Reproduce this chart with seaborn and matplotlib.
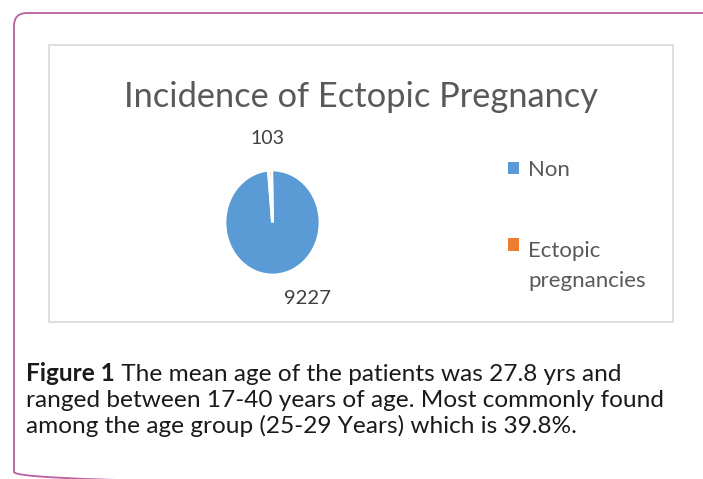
import matplotlib
matplotlib.use("Agg")
import matplotlib.pyplot as plt
from matplotlib.patches import FancyBboxPatch, Rectangle
from matplotlib.legend_handler import HandlerPatch
import seaborn as sns

# ---- data ----
categories = ["Non", "Ectopic\npregnancies"]
counts = [9227, 103]
count_labels = ["9227", "103"]
title = "Incidence of Ectopic Pregnancy"
caption_bold = "Figure 1"
caption_lines = [
    " The mean age of the patients was 27.8 yrs and",
    "ranged between 17-40 years of age. Most commonly found",
    "among the age group (25-29 Years) which is 39.8%.",
]

sns.set_theme(style="white")
plt.rcParams["font.family"] = ["Lato", "DejaVu Sans"]

colors = ["#5B9BD5", "#ED7D31"]
W, H = 703, 479
fig = plt.figure(figsize=(W / 100, H / 100), dpi=100)
fig.patch.set_facecolor("white")

bg = fig.add_axes([0, 0, 1, 1])
bg.set_xlim(0, W)
bg.set_ylim(H, 0)
bg.axis("off")

renderer = fig.canvas.get_renderer()


def fit(ax, x, y, s, target_w, **kw):
    t = ax.text(x, y, s, fontsize=10, **kw)
    w = t.get_window_extent(renderer).width
    t.set_fontsize(10 * target_w / w)
    return t


# outer rounded frame
frame = FancyBboxPatch((14, 13), 704, 472,
                       boxstyle="round,pad=0,rounding_size=13",
                       fc="none", ec="#bb5f9d", lw=1.3, clip_on=False)
bg.add_patch(frame)

# inner chart box
bg.add_patch(Rectangle((49, 45), 624, 277, fc="white", ec="#d9d9d9", lw=1.2))

# title
fit(bg, 361, 107, title, 473, ha="center", va="baseline", color="#595959")

# pie
cx, cy, rx, ry = 272.5, 222.5, 47.5, 52.5
pax = fig.add_axes([(cx - rx) / W, 1 - (cy + ry) / H, 2 * rx / W, 2 * ry / H])
wedges, _ = pax.pie(counts, colors=colors, startangle=91, counterclock=False,
                    wedgeprops=dict(edgecolor="white", linewidth=2.0))
pax.set_aspect("auto")
pax.set_xlim(-1, 1)
pax.set_ylim(-1, 1)

# data labels
fit(bg, 267, 138, count_labels[1], 34, ha="center", va="center", color="#404040")
fit(bg, 307, 299, count_labels[0], 47, ha="center", va="center", color="#404040")

# legend
tmp = bg.text(0, 0, "Non", fontsize=10)
lw_ = tmp.get_window_extent(renderer).width
tmp.remove()
lfs = 10 * 42 / lw_
LINESP = 1.6


def top_square(legend, orig_handle, xdescent, ydescent, width, height, fontsize):
    # align the square with the first line of a two-line label
    shift = 0.5 * fontsize * 1.2 * LINESP if "\n" in orig_handle.get_label() else 0
    return Rectangle((-xdescent, -ydescent + shift), width, height)


for w_, lab in zip(wedges, categories):
    w_.set_label(lab)

leg = fig.legend(wedges, categories, loc="upper left",
                 bbox_to_anchor=(508 / W, 1 - 160 / H), frameon=False,
                 fontsize=lfs, labelcolor="#595959", handlelength=0.5,
                 handleheight=0.5, handletextpad=0.4, labelspacing=2.75,
                 borderpad=0, borderaxespad=0,
                 handler_map={w: HandlerPatch(patch_func=top_square) for w in wedges})
for t in leg.get_texts():
    t.set_linespacing(LINESP)
for h in leg.legend_handles:
    h.set_edgecolor("none")

# caption
t2 = fit(bg, 26, 407, caption_lines[1], 636, ha="left", va="baseline", color="#1a1a1a")
cfs = t2.get_fontsize()
tb = bg.text(26, 381, caption_bold, fontsize=cfs, fontweight="bold",
             ha="left", va="baseline", color="#1a1a1a")
bw = tb.get_window_extent(renderer).width
bg.text(26 + bw, 381, caption_lines[0], fontsize=cfs, ha="left", va="baseline", color="#1a1a1a")
bg.text(26, 433, caption_lines[2], fontsize=cfs, ha="left", va="baseline", color="#1a1a1a")

fig.savefig("out.png", dpi=100, facecolor="white")
